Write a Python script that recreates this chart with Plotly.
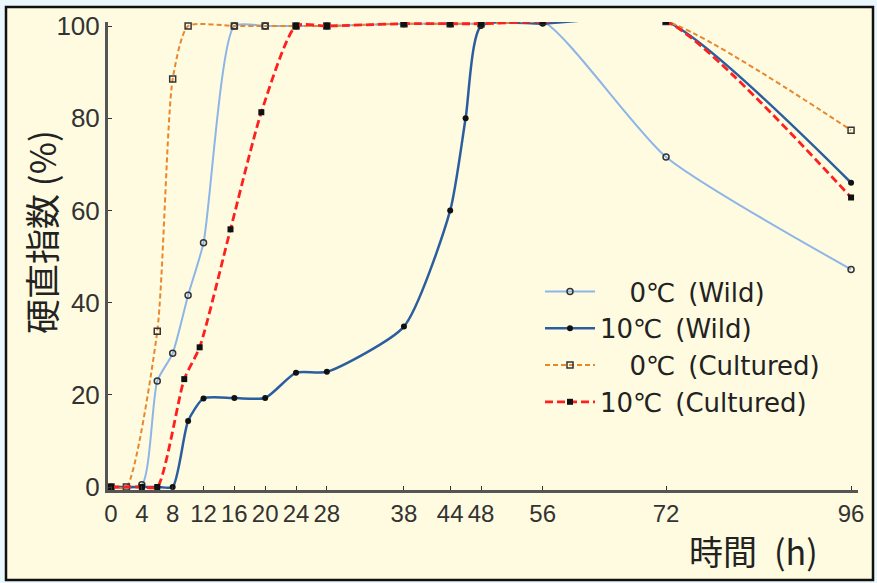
import plotly.graph_objects as go

# ---------------- data ----------------
hours_tick = [0, 4, 8, 12, 16, 20, 24, 28, 38, 44, 48, 56, 72, 96]
tick_labels = [str(h) for h in hours_tick]
y_ticks = [0, 20, 40, 60, 80, 100]

wild0_x = [0, 4, 6, 8, 10, 12, 16, 20, 24, 28, 38, 44, 48, 56, 72, 96]
wild0_y = [0, 0.5, 23, 29, 41.6, 53, 100, 100, 100, 100, 100.5, 100.5, 100.5, 101, 71.6, 47.2]

wild10_x = [0, 4, 6, 8, 10, 12, 16, 20, 24, 28, 38, 44, 46, 48, 56, 72, 96]
wild10_y = [0, 0, 0, 0, 14.3, 19.2, 19.3, 19.3, 24.8, 25, 34.8, 60, 80, 100, 100.5, 101, 66]

cult0_x = [0, 2, 6, 8, 10, 16, 20, 24, 28, 38, 44, 48, 56, 72, 96]
cult0_y = [0, 0, 33.8, 88.5, 100, 100, 100, 100, 100, 100.5, 100.5, 100.5, 101, 101, 77.4]

cult10_x = [0, 4, 6, 9.5, 11.5, 15.5, 19.5, 24, 28, 38, 44, 48, 56, 72, 96]
cult10_y = [0, 0, 0, 23.4, 30.3, 55.9, 81.3, 100, 100, 100.5, 100.5, 100.5, 101, 101, 62.8]

SP = "\u2002"
IND = "\u2007\u2002"
series_names = [IND + "0℃" + SP + "(Wild)", "10℃" + SP + "(Wild)",
                IND + "0℃" + SP + "(Cultured)", "10℃" + SP + "(Cultured)"]

# ---------------- figure ----------------
CREAM = "#fefbe0"
OUTER = "#eaf7fc"
TICKFONT = "Liberation Sans Narrow, Liberation Sans, Arial"
fig = go.Figure()

fig.add_trace(go.Scatter(
    x=wild0_x, y=wild0_y, name=series_names[0], legendgroup="a",
    mode="lines+markers",
    line=dict(color="#8db5e8", width=2, shape="spline", smoothing=0.6),
    marker=dict(symbol="circle-open", size=6, color="#333333", line=dict(width=1.5)),
))
fig.add_trace(go.Scatter(
    x=wild10_x, y=wild10_y, name=series_names[1], legendgroup="b",
    mode="lines+markers",
    line=dict(color="#2b5e9f", width=2.5, shape="spline", smoothing=0.6),
    marker=dict(symbol="circle", size=6, color="#111111"),
))
fig.add_trace(go.Scatter(
    x=cult0_x, y=cult0_y, name=series_names[2], legendgroup="c",
    mode="lines+markers",
    line=dict(color="#e8872e", width=2, dash="5px,3px", shape="spline", smoothing=0.6),
    marker=dict(symbol="square-open", size=6, color="#333333", line=dict(width=1.5)),
))
fig.add_trace(go.Scatter(
    x=cult10_x, y=cult10_y, name=series_names[3], legendgroup="d",
    mode="lines+markers",
    line=dict(color="#ff1f1f", width=2.8, dash="8px,4px", shape="spline", smoothing=0.6),
    marker=dict(symbol="square", size=6, color="#111111"),
))

L, W, T, H = 108, 750, 22, 468
def px(x):
    return (x - L) / W
def py(y):
    return (T + H - y) / H

fig.update_layout(
    width=877, height=583,
    margin=dict(l=L, r=877 - L - W, t=T, b=583 - T - H),
    paper_bgcolor=OUTER,
    plot_bgcolor=CREAM,
    showlegend=True,
    legend=dict(
        x=px(540), y=py(268), xanchor="left", yanchor="top",
        bgcolor="rgba(0,0,0,0)",
        font=dict(family="DejaVu Sans", size=26, color="#222222"),
        itemwidth=50, tracegroupgap=0,
    ),
    xaxis=dict(
        range=[-0.39, 96.9], tickmode="array", tickvals=hours_tick, ticktext=tick_labels,
        showgrid=False, zeroline=False, showline=True, linecolor="#555555", linewidth=3,
        ticks="inside", ticklen=4, tickcolor="#333333",
        tickfont=dict(family=TICKFONT, size=24, color="#333333"),
    ),
    yaxis=dict(
        range=[-0.65, 100.87], tickmode="array", tickvals=y_ticks,
        showgrid=False, zeroline=False, showline=True, linecolor="#555555", linewidth=3,
        ticks="inside", ticklen=4, tickcolor="#333333",
        tickfont=dict(family=TICKFONT, size=26, color="#333333"),
    ),
    shapes=[
        dict(type="rect", xref="paper", yref="paper",
             x0=px(6), x1=px(873), y0=py(580), y1=py(7),
             fillcolor=CREAM, line=dict(color="#111111", width=2.5), layer="below"),
    ],
    annotations=[
        dict(text="硬直指数 (%)", xref="paper", yref="paper", x=px(41), y=py(232),
             xanchor="center", yanchor="middle",
             textangle=-90, showarrow=False,
             font=dict(family="Noto Sans CJK JP", size=35, color="#222222")),
        dict(text="時間\u2002(h)", xref="paper", yref="paper", x=px(753), y=py(550),
             xanchor="center", yanchor="middle",
             showarrow=False,
             font=dict(family="Noto Sans CJK JP", size=34, color="#222222")),
    ],
)

fig.write_html(
    "out.html",
    config={"displayModeBar": False},
    post_script="document.body.style.margin='0';document.body.style.background='#eaf7fc';",
)
